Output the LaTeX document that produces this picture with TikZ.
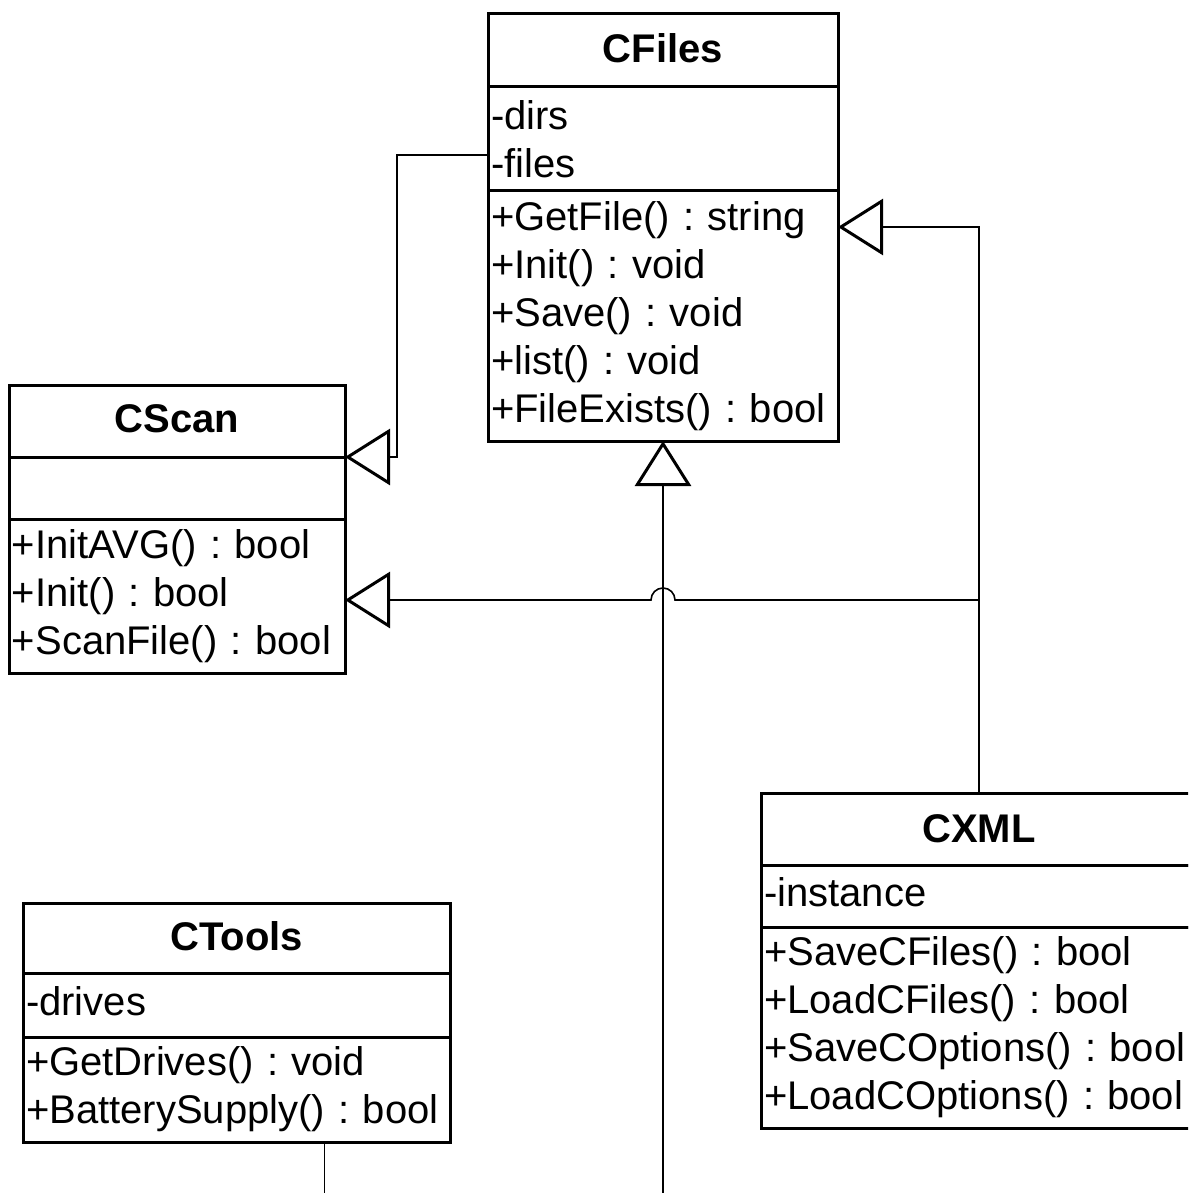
\documentclass[tikz,border=0pt]{standalone}
\usepackage{fontspec}
\setmainfont{Liberation Sans}
\usetikzlibrary{arrows.meta,calc}
\frenchspacing
\begin{document}
\begin{tikzpicture}[x=1pt,y=1pt,
  box/.style 2 args={draw, line width=3pt, rectangle, outer sep=0pt, inner xsep=3pt, inner ysep=0pt, anchor=north west, minimum width=#1pt, text width=#2pt, font=\fontsize{40}{48}\selectfont\frenchspacing},
  ttl/.style={align=center, text depth=5pt, font=\fontsize{40}{48}\selectfont\bfseries},
  lst/.style={align=left},
  att/.style={align=left, text depth=8pt},
  gen/.style={line width=1.6pt, -{Triangle[open,length=45pt,width=56pt,line width=3pt]}},
  wire/.style={line width=1.6pt}]
\useasboundingbox (0,0) rectangle (1188,-1193);
\clip (0,0) rectangle (1188,-1193);

% CFiles
\node[box={350}{344}, ttl, minimum height=73pt] (cfT) at (488,-14) {CFiles};
\node[box={350}{344}, lst, minimum height=104pt] (cfA) at (cfT.south west) {-dirs\\-files};
\node[box={350}{344}, lst, minimum height=250pt] (cfM) at (cfA.south west) {+GetFile() : string\\+Init() : void\\+Save() : void\\+list() : void\\+FileExists() : bool};

% CScan
\node[box={336}{330}, ttl, minimum height=72pt] (csT) at (9,-385) {CScan};
\node[box={336}{330}, lst, minimum height=62pt] (csA) at (csT.south west) {};
\node[box={336}{330}, lst, minimum height=154pt] (csM) at (csA.south west) {+InitAVG() : bool\\+Init() : bool\\+ScanFile() : bool};

% CTools
\node[box={427}{421}, ttl, minimum height=70pt] (ctT) at (23,-903) {CTools};
\node[box={427}{421}, att, minimum height=64pt] (ctA) at (ctT.south west) {-drives};
\node[box={427}{421}, lst, minimum height=105pt] (ctM) at (ctA.south west) {+GetDrives() : void\\+BatterySupply() : bool};

% CXML
\node[box={436}{430}, align=center, font=\fontsize{40}{48}\selectfont\bfseries, minimum height=72pt] (cxT) at (761,-793) {CXML};
\node[box={436}{430}, att, minimum height=62pt] (cxA) at (cxT.south west) {-instance};
\node[box={436}{430}, lst, minimum height=201pt] (cxM) at (cxA.south west) {+SaveCFiles() : bool\\+LoadCFiles() : bool\\+SaveCOptions() : bool\\+LoadCOptions() : bool};

% connectors
\coordinate (fl) at ([yshift=-16pt]cfA.west);
\coordinate (k1) at (397,0);
\draw[gen] (fl) -- (fl -| k1) |- (csT.south east);

\coordinate (xr) at ([yshift=89pt]cfM.east);
\draw[gen] (cxT.north) |- (xr);

\coordinate (y600) at (0,-600);
\coordinate (j) at (cxT.north |- y600);
\draw[gen] (j) -- ([xshift=12pt]cfM.south |- j) arc[start angle=0,end angle=180,radius=12pt] -- (csM.east |- j);

\coordinate (ybot) at (0,-1200);
\coordinate (b1) at (cfM.south |- ybot);
\draw[gen] (b1) -- (cfM.south);

\coordinate (ct) at ([xshift=88pt]ctM.south);
\coordinate (b2) at (ct |- ybot);
\draw[wire] (ct) -- (b2);
\end{tikzpicture}
\end{document}
